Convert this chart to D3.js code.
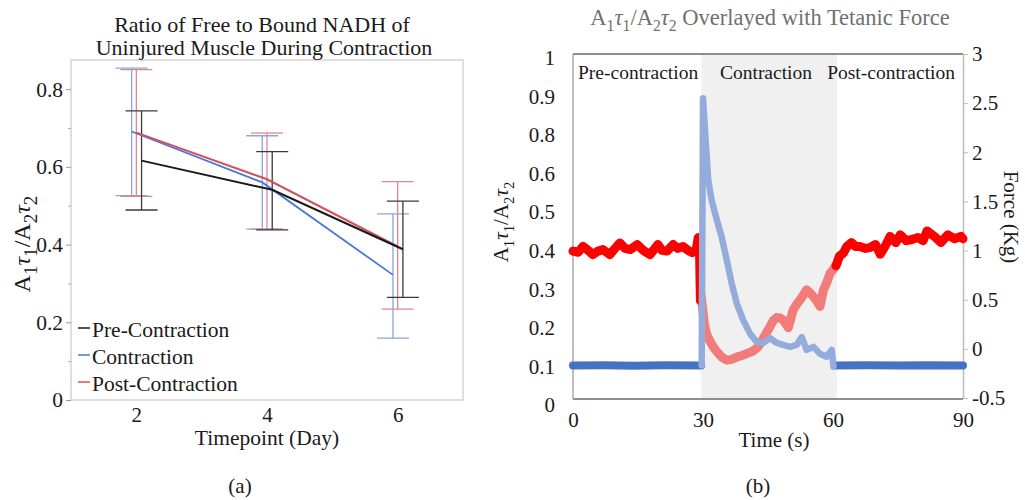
<!DOCTYPE html>
<html><head><meta charset="utf-8">
<script src="https://cdn.jsdelivr.net/npm/d3@7"></script>
<style>
body{margin:0;background:#fff}
svg, svg text{font-family:"Liberation Serif","Times New Roman",serif !important}
</style>
</head><body>
<svg id="c" width="1025" height="500"></svg>
<script>
// ---------------- Panel (a) data ----------------
const days = [2, 4, 6];
const seriesNames = ["Pre-Contraction", "Contraction", "Post-Contraction"];
const preMean  = [0.616, 0.541, 0.388];
const preLow   = [0.489, 0.438, 0.264];
const preHigh  = [0.744, 0.639, 0.512];
const conMean  = [0.691, 0.560, 0.322];
const conLow   = [0.526, 0.440, 0.159];
const conHigh  = [0.854, 0.680, 0.479];
const postMean = [0.688, 0.568, 0.395];
const postLow  = [0.524, 0.440, 0.234];
const postHigh = [0.850, 0.687, 0.562];
const yTicksA  = [0, 0.2, 0.4, 0.6, 0.8];
const yMinorA  = [0.1, 0.3, 0.5, 0.7];
const xTicksA  = [2, 4, 6];

// ---------------- Panel (b) data ----------------
const ratioPreTime = [0, 1.2, 2.3, 3.5, 4.6, 5.8, 6.9, 8.5, 9.7, 10.8, 12.0, 13.2, 14.8, 16.2, 17.8, 19.6, 20.5, 21.7, 23.1, 24.2, 25.4, 26.5, 27.5, 28.4, 28.9, 29.2, 29.4];
const ratioPre     = [0.398, 0.395, 0.41, 0.40, 0.389, 0.398, 0.402, 0.389, 0.405, 0.419, 0.405, 0.402, 0.415, 0.40, 0.389, 0.415, 0.40, 0.398, 0.415, 0.405, 0.41, 0.40, 0.394, 0.40, 0.433, 0.40, 0.27];
const ratioConTime = [29.5, 29.9, 30.3, 30.8, 31.6, 32.4, 33.2, 34.3, 35.5, 36.6, 37.8, 39.0, 40.1, 41.3, 42.4, 43.2, 43.9, 44.7, 45.5, 46.2, 47.0, 47.8, 48.5, 49.1, 49.7, 50.3, 50.8, 51.6, 52.4, 53.2, 53.9, 54.7, 55.5, 56.2, 57.0, 57.8, 58.5, 59.3, 60.0, 60.6];
const ratioCon     = [0.29, 0.25, 0.21, 0.185, 0.165, 0.15, 0.138, 0.124, 0.116, 0.118, 0.124, 0.128, 0.133, 0.138, 0.147, 0.158, 0.172, 0.188, 0.203, 0.218, 0.226, 0.225, 0.22, 0.21, 0.20, 0.225, 0.246, 0.26, 0.272, 0.285, 0.298, 0.29, 0.28, 0.27, 0.255, 0.298, 0.315, 0.34, 0.35, 0.36];
const ratioPostTime = [60.7, 61.5, 62.4, 63.2, 64.3, 65.2, 66.2, 67.5, 68.5, 69.8, 70.9, 72.0, 73.2, 74.5, 75.5, 76.9, 78.2, 79.6, 80.8, 81.7, 83.3, 84.9, 86.5, 88.0, 89.5, 90];
const ratioPost     = [0.36, 0.385, 0.393, 0.41, 0.42, 0.41, 0.41, 0.405, 0.407, 0.415, 0.39, 0.41, 0.436, 0.42, 0.44, 0.425, 0.428, 0.433, 0.425, 0.45, 0.437, 0.42, 0.44, 0.43, 0.436, 0.43];

const forcePreTime = [0, 7, 14, 21, 29.6];
const forcePre     = [-0.17, -0.168, -0.172, -0.168, -0.17];
const forceConTime = [29.7, 30.0, 30.46, 31.2, 32.0, 33.2, 34.3, 35.5, 36.6, 37.8, 39.3, 40.8, 42.4, 43.9, 45.5, 47.0, 48.5, 50.1, 51.6, 52.8, 53.9, 55.5, 57.0, 58.5, 59.7, 60.1];
const forceCon     = [-0.17, 2.55, 2.23, 1.72, 1.51, 1.31, 1.14, 0.90, 0.67, 0.46, 0.29, 0.16, 0.07, 0.06, 0.11, 0.06, 0.04, 0.02, 0.04, 0.12, -0.01, 0.02, -0.05, -0.08, -0.01, -0.18];
const forcePostTime = [60.4, 68, 75, 82, 90];
const forcePost     = [-0.17, -0.168, -0.17, -0.166, -0.17];

const phaseNames = ["Pre-contraction", "Contraction", "Post-contraction"];
const contractionSpan = [29.6, 60.9];
const ratioAxisLabels = ["1", "0.9", "0.8", "0.6", "0.5", "0.4", "0.3", "0.2", "0.1", "0"];
const forceTicks = [-0.5, 0, 0.5, 1, 1.5, 2, 2.5, 3];
const timeTicks = [0, 30, 60, 90];

// ---------------- helpers ----------------
const FONT = '"Liberation Serif","Times New Roman",serif';
const svg = d3.select("#c");
function ratioLabel(sel, size, subScale) {
  const sc = subScale || 0.7;
  const parts = [["A",0,false],["1",1,false],["τ",-1,true],["1",1,false],["/A",-1,false],["2",1,false],["τ",-1,true],["2",1,false]];
  parts.forEach(([t, s, it]) => {
    const ts = sel.append("tspan").text(t);
    if (s === 1) ts.attr("dy", size * 0.28).attr("font-size", size * sc);
    if (s === -1) ts.attr("dy", -size * 0.28);
    if (it) ts.attr("font-style", "italic");
  });
  return sel;
}

// ================= Panel (a) =================
const ga = svg.append("g");
const xA = d3.scaleLinear().domain([1, 7]).range([71, 463]);
const yA = d3.scaleLinear().domain([0, 0.875]).range([400, 60]);

ga.append("rect").attr("x", xA(1)).attr("y", yA(0.875)).attr("width", xA(7) - xA(1)).attr("height", yA(0) - yA(0.875))
  .attr("fill", "none").attr("stroke", "#c9c9c9").attr("stroke-width", 1.2);

const yAxA = ga.append("g").attr("transform", `translate(${xA(1)},0)`)
  .call(d3.axisLeft(yA).tickValues(yTicksA).tickSize(5).tickPadding(3).tickFormat(d => String(d)));
yAxA.select(".domain").remove();
yAxA.selectAll("line").attr("stroke", "#9a9a9a");
yAxA.selectAll("text").attr("font-size", 21.5).attr("fill", "#1a1a1a");
const yMinA = ga.append("g").attr("transform", `translate(${xA(1)},0)`)
  .call(d3.axisLeft(yA).tickValues(yMinorA).tickSize(3).tickFormat(""));
yMinA.select(".domain").remove();
yMinA.selectAll("line").attr("stroke", "#b0b0b0");

const xAxA = ga.append("g").attr("transform", `translate(0,${yA(0)})`)
  .call(d3.axisBottom(xA).tickValues(xTicksA).tickSize(0).tickPadding(7).tickFormat(d3.format("d")));
xAxA.select(".domain").remove();
xAxA.selectAll("text").attr("font-size", 21).attr("fill", "#1a1a1a");

const seriesA = [
  {name: seriesNames[1], mean: conMean, low: conLow, high: conHigh, line: "#4a78d8", bar: "#8aa3e2", off: -0.072, w: 1.8},
  {name: seriesNames[2], mean: postMean, low: postLow, high: postHigh, line: "#d4505f", bar: "#dd8891", off: 0.0, w: 2},
  {name: seriesNames[0], mean: preMean, low: preLow, high: preHigh, line: "#1a1a1a", bar: "#3a3a3a", off: 0.08, w: 2},
];
const capHalf = 16;
seriesA.forEach(s => {
  const g = ga.append("g");
  days.forEach((d, i) => {
    const x = xA(d + s.off);
    g.append("line").attr("x1", x).attr("x2", x).attr("y1", yA(s.low[i])).attr("y2", yA(s.high[i])).attr("stroke", s.bar).attr("stroke-width", 1.3);
    [s.low[i], s.high[i]].forEach(v => g.append("line").attr("x1", x - capHalf).attr("x2", x + capHalf).attr("y1", yA(v)).attr("y2", yA(v)).attr("stroke", s.bar).attr("stroke-width", 1.3));
  });
});
seriesA.forEach(s => {
  ga.append("path").datum(days.map((d, i) => [d + s.off, s.mean[i]]))
    .attr("d", d3.line().x(p => xA(p[0])).y(p => yA(p[1])))
    .attr("fill", "none").attr("stroke", s.line).attr("stroke-width", s.w);
});

const legA = [seriesA[2], seriesA[0], seriesA[1]];
legA.forEach((s, i) => {
  const yy = 328 + i * 27;
  ga.append("line").attr("x1", 78).attr("x2", 90).attr("y1", yy).attr("y2", yy).attr("stroke", s.line).attr("stroke-width", 1.5);
  ga.append("text").attr("x", 92).attr("y", yy + 8.5).attr("font-size", 21.5).attr("fill", "#1a1a1a").text(s.name);
});

ga.append("text").attr("x", 262).attr("y", 32).attr("text-anchor", "middle").attr("font-size", 22).attr("fill", "#1a1a1a").text("Ratio of Free to Bound NADH of");
ga.append("text").attr("x", 264).attr("y", 55).attr("text-anchor", "middle").attr("font-size", 22).attr("fill", "#1a1a1a").text("Uninjured Muscle During Contraction");
ga.append("text").attr("x", 267).attr("y", 445).attr("text-anchor", "middle").attr("font-size", 21.5).attr("fill", "#1a1a1a").text("Timepoint (Day)");
ratioLabel(ga.append("text").attr("transform", "translate(30,244) rotate(-90)").attr("text-anchor", "middle").attr("font-size", 24).attr("fill", "#1a1a1a"), 24, 0.8);
ga.append("text").attr("x", 240).attr("y", 493).attr("text-anchor", "middle").attr("font-size", 21).attr("fill", "#1a1a1a").text("(a)");

// ================= Panel (b) =================
const gb = svg.append("g");
const xB = d3.scaleLinear().domain([0, 90]).range([573, 963]);
const yF = d3.scaleLinear().domain([-0.5, 3]).range([398, 54]);
const yR = d3.scaleLinear().domain([0, 0.6]).range([405, 173]);
const yLab = d3.scalePoint().domain(ratioAxisLabels).range([58, 405]);

gb.append("rect").attr("x", xB(contractionSpan[0])).attr("y", yF(3)).attr("width", xB(contractionSpan[1]) - xB(contractionSpan[0])).attr("height", yF(-0.5) - yF(3)).attr("fill", "#f0f0f0");

gb.append("line").attr("x1", xB(0)).attr("x2", xB(90)).attr("y1", yF(3)).attr("y2", yF(3)).attr("stroke", "#6a6a6a").attr("stroke-width", 1.5);
gb.append("line").attr("x1", xB(0)).attr("x2", xB(90)).attr("y1", yF(-0.5)+1).attr("y2", yF(-0.5)+1).attr("stroke", "#6a6a6a").attr("stroke-width", 1.5);
gb.append("line").attr("x1", xB(0)).attr("x2", xB(0)).attr("y1", yF(3)).attr("y2", yF(-0.5)+1).attr("stroke", "#a8a8a8").attr("stroke-width", 1.5);

const yAxB = gb.append("g").attr("transform", `translate(${xB(0)},0)`)
  .call(d3.axisLeft(yLab).tickSize(0).tickPadding(18));
yAxB.select(".domain").remove();
yAxB.selectAll("text").attr("font-size", 21).attr("fill", "#1a1a1a");

const yAxR = gb.append("g").attr("transform", `translate(${xB(90)},0)`)
  .call(d3.axisRight(yF).tickValues(forceTicks).tickSize(5).tickSizeOuter(0).tickPadding(4).tickFormat(d => String(d)));
yAxR.select(".domain").attr("stroke", "#bdbdbd").attr("stroke-width", 1.5);
yAxR.selectAll("line").attr("stroke", "#bdbdbd");
yAxR.selectAll("text").attr("font-size", 21).attr("fill", "#1a1a1a");

const xAxB = gb.append("g").attr("transform", `translate(0,${yF(-0.5)})`)
  .call(d3.axisBottom(xB).tickValues(timeTicks).tickSize(0).tickPadding(14));
xAxB.select(".domain").remove();
xAxB.selectAll("text").attr("font-size", 21).attr("fill", "#1a1a1a");

gb.append("text").attr("x", 578).attr("y", 79).attr("font-size", 19.5).attr("fill", "#1a1a1a").text(phaseNames[0]);
gb.append("text").attr("x", 766).attr("y", 79).attr("text-anchor", "middle").attr("font-size", 19.5).attr("fill", "#1a1a1a").text(phaseNames[1]);
gb.append("text").attr("x", 955).attr("y", 79).attr("text-anchor", "end").attr("font-size", 19.5).attr("fill", "#1a1a1a").text(phaseNames[2]);

function series(times, vals, ys, color, w) {
  gb.append("path").datum(times.map((t, i) => [t, vals[i]]))
    .attr("d", d3.line().x(p => xB(p[0])).y(p => ys(p[1])))
    .attr("fill", "none").attr("stroke", color).attr("stroke-width", w)
    .attr("stroke-linejoin", "round").attr("stroke-linecap", "round");
}
series(ratioConTime, ratioCon, yR, "#f27c79", 9);
series(ratioPreTime, ratioPre, yR, "#ff0000", 9);
series(ratioPostTime, ratioPost, yR, "#ff0000", 9);
series(forcePreTime, forcePre, yF, "#4472c4", 8);
series(forcePostTime, forcePost, yF, "#4472c4", 8);
series(forceConTime, forceCon, yF, "#94acdb", 6.5);

const tb = gb.append("text").attr("x", 770).attr("y", 25).attr("text-anchor", "middle").attr("font-size", 22.5).attr("fill", "#707070");
ratioLabel(tb, 22.5);
tb.append("tspan").attr("dy", -22.5 * 0.28).text(" Overlayed with Tetanic Force");
gb.append("text").attr("x", 774).attr("y", 447).attr("text-anchor", "middle").attr("font-size", 21).attr("fill", "#1a1a1a").text("Time (s)");
ratioLabel(gb.append("text").attr("transform", "translate(508,222) rotate(-90)").attr("text-anchor", "middle").attr("font-size", 21).attr("fill", "#1a1a1a"), 21);
gb.append("text").attr("transform", "translate(1004,217) rotate(90)").attr("text-anchor", "middle").attr("font-size", 21).attr("fill", "#1a1a1a").text("Force (Kg)");
gb.append("text").attr("x", 758).attr("y", 493).attr("text-anchor", "middle").attr("font-size", 21).attr("fill", "#1a1a1a").text("(b)");

svg.selectAll("g").attr("font-family", null);
svg.selectAll("text").attr("font-family", FONT).style("font-family", FONT);
</script>
</body></html>
